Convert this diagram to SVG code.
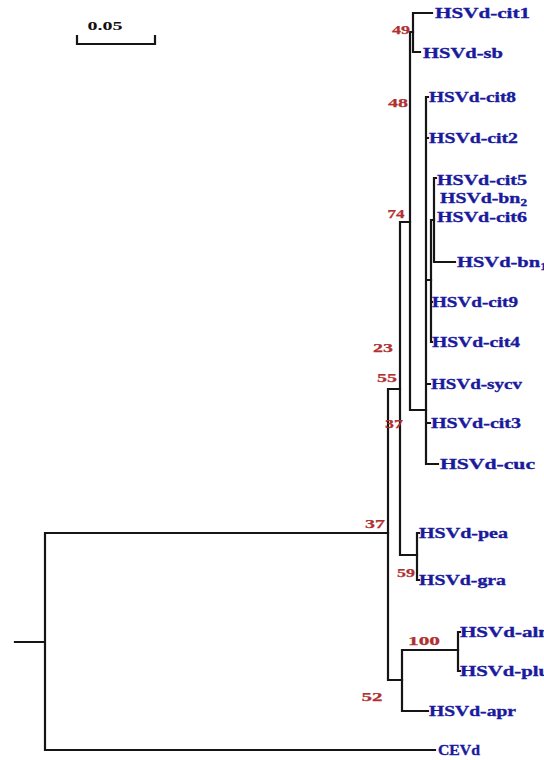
<svg xmlns="http://www.w3.org/2000/svg" width="544" height="760" viewBox="0 0 544 760">
<style>
.e{fill:none;stroke:#151515;stroke-width:2.2;stroke-linecap:square}
.t{font-family:"Liberation Serif","Times New Roman",serif;font-weight:bold;font-size:15px;fill:#1a1a9c;stroke:#1a1a9c;stroke-width:0.35}
.b{font-family:"Liberation Serif","Times New Roman",serif;font-weight:bold;font-size:13.5px;fill:#b03030;stroke:#b03030;stroke-width:0.25;text-anchor:middle}
.s{font-family:"Liberation Serif","Times New Roman",serif;font-weight:bold;font-size:12px;fill:#111;text-anchor:middle}
</style>
<rect width="544" height="760" fill="#fff"/>
<g id="scale">
<path class="e" d="M77,36 V44 H155 V36"/>
<text class="s" x="105" y="30" textLength="35" lengthAdjust="spacingAndGlyphs">0.05</text>
</g>
<g id="connectors" class="e">
<path d="M15,642 H45 M45,533 V750 M45,533 H388 M45,750 H435"/>
<path d="M388,389 V680 M388,389 H400 M388,680 H402"/>
<path d="M400,222 V555 M400,222 H410 M400,555 H417"/>
<path d="M417,533 V580 M417,533 H419 M417,580 H419"/>
<path d="M410,32 V410 M410,32 H413 M410,410 H426"/>
<path d="M413,13 V52 M413,13 H432 M413,52 H420"/>
<path d="M426,97 V464 M426,97 H428 M426,138 H428 M426,384 H430 M426,423 H430 M426,464 H438 M426,280 H431"/>
<path d="M431,220 V342 M431,302 H432 M431,342 H432 M431,220 H434"/>
<path d="M434,178 V262 M434,178 H436 M434,262 H455"/>
<path d="M402,650 V711 M402,650 H458 M402,711 H428"/>
<path d="M458,632 V671 M458,632 H460 M458,671 H460"/>
</g>
<g id="HSVd-cit1"><text class="t" x="435" y="18" textLength="95" lengthAdjust="spacingAndGlyphs">HSVd-cit1</text></g>
<g id="HSVd-sb"><text class="t" x="423" y="58" textLength="80" lengthAdjust="spacingAndGlyphs">HSVd-sb</text></g>
<g id="HSVd-cit8"><text class="t" x="429" y="102" textLength="87" lengthAdjust="spacingAndGlyphs">HSVd-cit8</text></g>
<g id="HSVd-cit2"><text class="t" x="429" y="143" textLength="89" lengthAdjust="spacingAndGlyphs">HSVd-cit2</text></g>
<g id="HSVd-cit5"><text class="t" x="437" y="185" textLength="90" lengthAdjust="spacingAndGlyphs">HSVd-cit5</text></g>
<g id="HSVd-bn2"><text class="t" x="440" y="203" textLength="87" lengthAdjust="spacingAndGlyphs">HSVd-bn<tspan font-size="10" dy="3">2</tspan></text></g>
<g id="HSVd-cit6"><text class="t" x="437" y="222" textLength="90" lengthAdjust="spacingAndGlyphs">HSVd-cit6</text></g>
<g id="HSVd-bn1"><text class="t" x="457" y="267" textLength="90" lengthAdjust="spacingAndGlyphs">HSVd-bn<tspan font-size="10" dy="3">1</tspan></text></g>
<g id="HSVd-cit9"><text class="t" x="432" y="307" textLength="86" lengthAdjust="spacingAndGlyphs">HSVd-cit9</text></g>
<g id="HSVd-cit4"><text class="t" x="432" y="347" textLength="88" lengthAdjust="spacingAndGlyphs">HSVd-cit4</text></g>
<g id="HSVd-sycv"><text class="t" x="431" y="389" textLength="91" lengthAdjust="spacingAndGlyphs">HSVd-sycv</text></g>
<g id="HSVd-cit3"><text class="t" x="431" y="428" textLength="90" lengthAdjust="spacingAndGlyphs">HSVd-cit3</text></g>
<g id="HSVd-cuc"><text class="t" x="440" y="469" textLength="95" lengthAdjust="spacingAndGlyphs">HSVd-cuc</text></g>
<g id="HSVd-pea"><text class="t" x="419" y="538" textLength="89" lengthAdjust="spacingAndGlyphs">HSVd-pea</text></g>
<g id="HSVd-gra"><text class="t" x="419" y="585" textLength="87" lengthAdjust="spacingAndGlyphs">HSVd-gra</text></g>
<g id="HSVd-aln"><text class="t" x="460" y="637" textLength="90" lengthAdjust="spacingAndGlyphs">HSVd-aln</text></g>
<g id="HSVd-plu"><text class="t" x="460" y="676" textLength="90" lengthAdjust="spacingAndGlyphs">HSVd-plu</text></g>
<g id="HSVd-apr"><text class="t" x="429" y="716" textLength="87" lengthAdjust="spacingAndGlyphs">HSVd-apr</text></g>
<g id="CEVd"><text class="t" x="438" y="755" textLength="42" lengthAdjust="spacingAndGlyphs">CEVd</text></g>
<g id="bootstrap">
<text class="b" x="401" y="34" textLength="18" lengthAdjust="spacingAndGlyphs">49</text>
<text class="b" x="398" y="107" textLength="20" lengthAdjust="spacingAndGlyphs">48</text>
<text class="b" x="396" y="218" textLength="17" lengthAdjust="spacingAndGlyphs">74</text>
<text class="b" x="383" y="352" textLength="20" lengthAdjust="spacingAndGlyphs">23</text>
<text class="b" x="387" y="382" textLength="20" lengthAdjust="spacingAndGlyphs">55</text>
<text class="b" x="394" y="428" textLength="18" lengthAdjust="spacingAndGlyphs">37</text>
<text class="b" x="375" y="528" textLength="20" lengthAdjust="spacingAndGlyphs">37</text>
<text class="b" x="406" y="577" textLength="18" lengthAdjust="spacingAndGlyphs">59</text>
<text class="b" x="424" y="645" textLength="32" lengthAdjust="spacingAndGlyphs">100</text>
<text class="b" x="372" y="701" textLength="21" lengthAdjust="spacingAndGlyphs">52</text>
</g>
</svg>
